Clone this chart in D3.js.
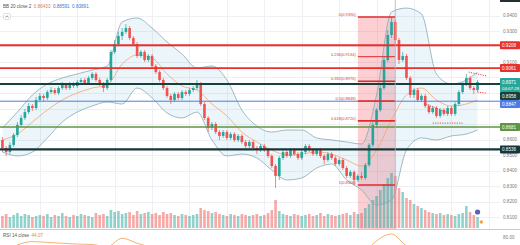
<!DOCTYPE html>
<html>
<head>
<meta charset="utf-8">
<script src="https://cdn.jsdelivr.net/npm/d3@7"></script>
<style>
  html, body { margin: 0; padding: 0; background: #fff; }
  svg { display: block; font-family: "Liberation Sans", Arial, sans-serif; }
</style>
</head>
<body>
<svg id="chart" width="520" height="245"></svg>
<script>
// candles (one row of 10 per line)
const opens = [
  0.8597,0.8545,0.8519,0.8565,0.8629,0.8694,0.8739,0.8777,0.8816,0.8803,
  0.8855,0.8881,0.8868,0.8906,0.8919,0.8900,0.8932,0.8952,0.8932,0.8958,
  0.8945,0.8971,0.8984,0.8965,0.8997,0.9023,0.8984,0.8958,0.8932,0.8984,
  0.9165,0.9216,0.9268,0.9294,0.9319,0.9255,0.9216,0.9139,0.9165,0.9113,
  0.9139,0.9074,0.9035,0.8984,0.8932,0.8881,0.8855,0.8894,0.8868,0.8906,
  0.8894,0.8919,0.8932,0.8958,0.8829,0.8739,0.8674,0.8700,0.8648,0.8623,
  0.8648,0.8610,0.8635,0.8597,0.8623,0.8584,0.8558,0.8584,0.8545,0.8532,
  0.8558,0.8532,0.8494,0.8429,0.8365,0.8481,0.8519,0.8494,0.8532,0.8506,
  0.8481,0.8519,0.8558,0.8532,0.8506,0.8532,0.8494,0.8468,0.8506,0.8481,
  0.8442,0.8468,0.8416,0.8365,0.8390,0.8339,0.8365,0.8352,0.8435,0.8565,
  0.8694,0.8790,0.8932,0.9113,0.9274,0.9358,0.9242,0.9113,0.9139,0.8997,
  0.8887,0.8919,0.8855,0.8881,0.8816,0.8777,0.8803,0.8752,0.8790,0.8765,
  0.8803,0.8765,0.8829,0.8906,0.8958,0.8997,0.8932,0.8919
];
const highs = [
  0.8616,0.8558,0.8584,0.8642,0.8713,0.8758,0.8797,0.8835,0.8829,0.8874,
  0.8900,0.8894,0.8919,0.8939,0.8932,0.8945,0.8971,0.8965,0.8971,0.8971,
  0.8984,0.8997,0.8997,0.9010,0.9035,0.9035,0.8997,0.8971,0.8997,0.9177,
  0.9242,0.9294,0.9319,0.9345,0.9332,0.9268,0.9229,0.9177,0.9177,0.9152,
  0.9152,0.9087,0.9048,0.8997,0.8945,0.8894,0.8906,0.8906,0.8919,0.8919,
  0.8932,0.8945,0.8984,0.8971,0.8842,0.8752,0.8713,0.8713,0.8661,0.8661,
  0.8661,0.8648,0.8648,0.8635,0.8635,0.8597,0.8597,0.8597,0.8558,0.8571,
  0.8571,0.8545,0.8506,0.8442,0.8494,0.8532,0.8532,0.8545,0.8545,0.8519,
  0.8532,0.8571,0.8571,0.8545,0.8545,0.8545,0.8506,0.8519,0.8519,0.8494,
  0.8481,0.8481,0.8429,0.8403,0.8403,0.8377,0.8390,0.8448,0.8577,0.8713,
  0.8803,0.8952,0.9139,0.9306,0.9390,0.9371,0.9255,0.9165,0.9152,0.9010,
  0.8932,0.8932,0.8894,0.8894,0.8829,0.8816,0.8816,0.8803,0.8803,0.8816,
  0.8816,0.8842,0.8919,0.8971,0.9023,0.9010,0.8945,0.8984
];
const lows = [
  0.8519,0.8494,0.8506,0.8552,0.8616,0.8681,0.8726,0.8765,0.8784,0.8790,
  0.8842,0.8848,0.8855,0.8894,0.8887,0.8887,0.8919,0.8919,0.8919,0.8932,
  0.8932,0.8958,0.8952,0.8952,0.8984,0.8971,0.8945,0.8906,0.8919,0.8971,
  0.9152,0.9203,0.9242,0.9281,0.9242,0.9203,0.9126,0.9126,0.9100,0.9100,
  0.9061,0.9023,0.8971,0.8919,0.8868,0.8829,0.8842,0.8855,0.8855,0.8881,
  0.8881,0.8906,0.8919,0.8816,0.8726,0.8648,0.8661,0.8635,0.8597,0.8610,
  0.8597,0.8597,0.8584,0.8584,0.8571,0.8545,0.8545,0.8532,0.8506,0.8519,
  0.8519,0.8481,0.8416,0.8287,0.8339,0.8468,0.8481,0.8481,0.8494,0.8468,
  0.8468,0.8506,0.8519,0.8494,0.8494,0.8481,0.8442,0.8455,0.8468,0.8429,
  0.8429,0.8403,0.8352,0.8352,0.8306,0.8326,0.8339,0.8339,0.8423,0.8552,
  0.8674,0.8777,0.8919,0.9100,0.9255,0.9216,0.9087,0.9100,0.8984,0.8868,
  0.8868,0.8842,0.8842,0.8803,0.8765,0.8765,0.8739,0.8739,0.8752,0.8752,
  0.8752,0.8752,0.8816,0.8894,0.8945,0.8919,0.8894,0.8906
];
const closes = [
  0.8545,0.8519,0.8565,0.8629,0.8694,0.8739,0.8777,0.8816,0.8803,0.8855,
  0.8881,0.8868,0.8906,0.8919,0.8900,0.8932,0.8952,0.8932,0.8958,0.8945,
  0.8971,0.8984,0.8965,0.8997,0.9023,0.8984,0.8958,0.8932,0.8984,0.9165,
  0.9216,0.9268,0.9294,0.9319,0.9255,0.9216,0.9139,0.9165,0.9113,0.9139,
  0.9074,0.9035,0.8984,0.8932,0.8881,0.8855,0.8894,0.8868,0.8906,0.8894,
  0.8919,0.8932,0.8958,0.8829,0.8739,0.8674,0.8700,0.8648,0.8623,0.8648,
  0.8610,0.8635,0.8597,0.8623,0.8584,0.8558,0.8584,0.8545,0.8532,0.8558,
  0.8532,0.8494,0.8429,0.8365,0.8481,0.8519,0.8494,0.8532,0.8506,0.8481,
  0.8519,0.8558,0.8532,0.8506,0.8532,0.8494,0.8468,0.8506,0.8481,0.8442,
  0.8468,0.8416,0.8365,0.8390,0.8339,0.8365,0.8352,0.8435,0.8565,0.8694,
  0.8790,0.8932,0.9113,0.9274,0.9358,0.9242,0.9113,0.9139,0.8997,0.8887,
  0.8919,0.8855,0.8881,0.8816,0.8777,0.8803,0.8752,0.8790,0.8765,0.8803,
  0.8765,0.8829,0.8906,0.8958,0.8997,0.8932,0.8919,0.8971
];
const volumes = [
  12,14,11,13,15,12,14,13,11,12,
  13,12,14,11,13,12,15,12,11,13,
  12,14,13,12,11,15,13,14,12,18,
  16,17,14,15,16,13,17,14,15,16,
  14,15,13,16,14,15,13,12,14,13,
  12,13,14,20,18,17,15,16,14,13,
  12,14,13,12,14,13,12,13,14,12,
  13,15,18,28,17,14,13,12,14,13,
  12,13,14,12,13,15,12,14,13,12,
  13,14,15,13,16,14,15,20,24,28,
  32,38,44,50,55,52,40,36,30,28,
  24,22,20,18,16,15,14,15,13,14,
  13,12,14,15,22,16,13,11
];

// Bollinger Bands (20, 2) and RSI read at every 4th candle
const sampleIndex = [0,4,8,12,16,20,24,28,32,36,40,44,48,52,56,60,64,68,72,76,80,84,88,92,96,100,104,108,112,116,120,124,127];
const bbUpper = [0.8674,0.8777,0.8887,0.8958,0.8997,0.9023,0.9048,0.9074,0.9358,0.9384,0.9319,0.9229,0.9152,0.9061,0.9074,0.8984,
                 0.8790,0.8687,0.8648,0.8661,0.8661,0.8610,0.8597,0.8584,0.8571,0.8887,0.9423,0.9448,0.9410,0.9023,0.8958,0.8984,0.9035];
const bbLower = [0.8519,0.8494,0.8519,0.8610,0.8713,0.8777,0.8816,0.8842,0.8829,0.8932,0.8868,0.8771,0.8739,0.8777,0.8597,0.8494,
                 0.8506,0.8481,0.8403,0.8339,0.8352,0.8416,0.8442,0.8339,0.8274,0.8177,0.8210,0.8532,0.8610,0.8597,0.8623,0.8635,0.8661];
const bbBasis = [0.8597,0.8635,0.8713,0.8790,0.8855,0.8900,0.8932,0.8952,0.9087,0.9145,0.9126,0.9023,0.8945,0.8919,0.8829,0.8752,
                 0.8648,0.8584,0.8532,0.8500,0.8506,0.8519,0.8506,0.8468,0.8429,0.8532,0.8726,0.8887,0.8932,0.8855,0.8816,0.8829,0.8855];
const rsiValues = [45,62,70,68,66,64,63,58,78,66,55,40,45,48,32,38,36,38,32,45,48,46,44,36,38,72,88,60,48,44,46,58,56];

const priceTicks = [0.94,0.93,0.92,0.91,0.90,0.89,0.88,0.87,0.86,0.85,0.84,0.83,0.82,0.81];
const rsiTicks = [80];
const legendText = "BB 20 close 2";
const legendValues = ["0.86433", "0.88591", "0.83891"];
const rsiLabel = "RSI 14 close";
const rsiLabelValue = "44.07";
const countdown = "04:07:28";

// drawings
const levels = [0.9208, 0.9061, 0.8958, 0.8847, 0.8681, 0.8536];
const fibHigh = 0.9390, fibLow = 0.8306;
const fibLevels = [0, 0.236, 0.382, 0.5, 0.618, 1];
const fibStart = 95, fibEnd = 105;
const dotted = [
  [113.1, 0.8829, 119.3, 0.8771],
  [115, 0.8706, 123, 0.8706],
  [124.6, 0.9035, 129.5, 0.9010],
  [127, 0.8906, 129.2, 0.8900]
];

// styles
const levelColors = ["#e8302c", "#e8302c", "#17403c", "#4f7be8", "#5f9441", "#17363a"];
const levelWidths = [1.8, 1.8, 2.2, 1, 1.5, 2.2];
const upColor = "#26a69a", downColor = "#ef5350";

const svg = d3.select("#chart");
const plotRight = 500, mainBottom = 229;

const x = d3.scaleBand().domain(d3.range(closes.length)).range([0, 480]).padding(0.3);
const xAt = i => x(0) + x.bandwidth() / 2 + i * x.step();
const y = d3.scaleLinear().domain([0.81, 0.95]).range([217, 0]);
const yVol = d3.scaleLinear().domain([0, 60]).range([228, 168]);
const yRsi = d3.scaleLinear().domain([0, 100]).range([271, 229]);

const defs = svg.append("defs");
defs.append("clipPath").attr("id", "clipMain")
  .append("rect").attr("x", 0).attr("y", 0).attr("width", plotRight).attr("height", mainBottom);
defs.append("clipPath").attr("id", "clipRsi")
  .append("rect").attr("x", 0).attr("y", 230).attr("width", plotRight).attr("height", 15);

const main = svg.append("g").attr("clip-path", "url(#clipMain)");

// grid
main.append("g").selectAll("line").data(priceTicks).join("line")
  .attr("x1", 0).attr("x2", plotRight)
  .attr("y1", d => Math.round(y(d)) + 0.5).attr("y2", d => Math.round(y(d)) + 0.5)
  .attr("stroke", "#eef0f5");
main.append("g").selectAll("line").data(d3.range(10, 140, 10)).join("line")
  .attr("x1", d => Math.round(xAt(d)) + 0.5).attr("x2", d => Math.round(xAt(d)) + 0.5)
  .attr("y1", 0).attr("y2", 245)
  .attr("stroke", "#eef0f5");

// fib box
main.append("rect")
  .attr("x", xAt(fibStart)).attr("width", xAt(fibEnd) - xAt(fibStart))
  .attr("y", y(fibHigh)).attr("height", mainBottom - y(fibHigh))
  .attr("fill", "rgba(242,54,69,0.24)");

// volume
main.append("g").selectAll("rect").data(volumes).join("rect")
  .attr("x", (d, i) => x(i)).attr("width", x.bandwidth())
  .attr("y", d => yVol(d)).attr("height", d => yVol(0) - yVol(d))
  .attr("fill", (d, i) => closes[i] >= opens[i] ? "rgba(38,166,154,0.5)" : "rgba(239,83,80,0.5)");

// bollinger bands
const bb = sampleIndex.map((idx, k) => ({ idx, u: bbUpper[k], l: bbLower[k], m: bbBasis[k] }));
main.append("path").datum(bb)
  .attr("d", d3.area().x(d => xAt(d.idx)).y0(d => y(d.l)).y1(d => y(d.u)).curve(d3.curveMonotoneX))
  .attr("fill", "rgba(41,150,200,0.09)");
["u", "l"].forEach(key => {
  main.append("path").datum(bb)
    .attr("d", d3.line().x(d => xAt(d.idx)).y(d => y(d[key])).curve(d3.curveMonotoneX))
    .attr("fill", "none").attr("stroke", "#86a9b3").attr("stroke-width", 0.8);
});
main.append("path").datum(bb)
  .attr("d", d3.line().x(d => xAt(d.idx)).y(d => y(d.m)).curve(d3.curveMonotoneX))
  .attr("fill", "none").attr("stroke", "#f2a56e").attr("stroke-width", 0.8);

// candles
const candles = main.append("g").selectAll("g").data(closes).join("g");
candles.append("line")
  .attr("x1", (d, i) => xAt(i)).attr("x2", (d, i) => xAt(i))
  .attr("y1", (d, i) => y(highs[i])).attr("y2", (d, i) => y(lows[i]))
  .attr("stroke", (d, i) => d >= opens[i] ? upColor : downColor).attr("stroke-width", 0.7);
candles.append("rect")
  .attr("x", (d, i) => x(i)).attr("width", x.bandwidth())
  .attr("y", (d, i) => y(Math.max(d, opens[i])))
  .attr("height", (d, i) => Math.max(0.8, Math.abs(y(d) - y(opens[i]))))
  .attr("fill", (d, i) => d >= opens[i] ? upColor : downColor);

// horizontal levels
main.append("g").selectAll("line").data(levels).join("line")
  .attr("x1", 0).attr("x2", plotRight)
  .attr("y1", d => y(d)).attr("y2", d => y(d))
  .attr("stroke", (d, k) => levelColors[k]).attr("stroke-width", (d, k) => levelWidths[k]);

// fib retracement
const fibPrice = lvl => fibHigh - lvl * (fibHigh - fibLow);
const fib = main.append("g");
fib.selectAll("line").data(fibLevels).join("line")
  .attr("x1", xAt(fibStart)).attr("x2", xAt(fibEnd))
  .attr("y1", d => y(fibPrice(d))).attr("y2", d => y(fibPrice(d)))
  .attr("stroke", "#e22a2a").attr("stroke-width", d => (d === 0.236 ? 1 : 1.6));
fib.selectAll("text").data(fibLevels).join("text")
  .attr("x", xAt(fibStart) - 2).attr("y", d => y(fibPrice(d)) - 1)
  .attr("text-anchor", "end").attr("font-size", 4).attr("fill", "#d83a3a")
  .text(d => `${d}(${fibPrice(d).toFixed(4)})`);
main.append("line")
  .attr("x1", xAt(fibEnd)).attr("x2", xAt(fibEnd)).attr("y1", 0).attr("y2", mainBottom)
  .attr("stroke", "#a9b1bb").attr("stroke-width", 0.8);

// dotted trend lines
main.append("g").selectAll("line").data(dotted).join("line")
  .attr("x1", d => xAt(d[0])).attr("y1", d => y(d[1]))
  .attr("x2", d => xAt(d[2])).attr("y2", d => y(d[3]))
  .attr("stroke", "#e8302c").attr("stroke-width", 0.9).attr("stroke-dasharray", "1.2,1.2");

// event markers
main.append("circle").attr("cx", xAt(127)).attr("cy", yVol(16)).attr("r", 2.6).attr("fill", "#5c5fb8");
main.append("circle").attr("cx", xAt(128)).attr("cy", yVol(6)).attr("r", 1.8).attr("fill", "#f4a24a");

// price axis labels
const last = closes.length - 1;
let tags = levels.map((p, k) => ({ top: y(p) - 4, h: 8, color: levelColors[k], text: p.toFixed(4) }));
tags.push({ top: y(closes[last]) - 4, h: 14, color: upColor, text: closes[last].toFixed(4), sub: countdown });
tags.sort((a, b) => a.top - b.top);
let prevBottom = -100;
tags.forEach(t => { if (t.top < prevBottom) t.top = prevBottom; prevBottom = t.top + t.h; });

const axis = svg.append("g");
axis.selectAll("text").data(priceTicks.filter(p => !tags.some(t => y(p) > t.top - 1.5 && y(p) < t.top + t.h + 1.5)))
  .join("text")
  .attr("x", 503).attr("y", d => y(d)).attr("dy", "0.35em")
  .attr("font-size", 4.6).attr("fill", "#787b86")
  .text(d => d.toFixed(4));
axis.append("rect").attr("x", 500).attr("y", -4).attr("width", 20).attr("height", 6).attr("fill", "#24302f");
const tagG = axis.selectAll("g.tag").data(tags).join("g").attr("class", "tag");
tagG.append("rect").attr("x", 500).attr("y", d => d.top).attr("width", 20).attr("height", d => d.h)
  .attr("fill", d => d.color).attr("rx", 0.8);
tagG.append("text").attr("x", 502).attr("y", d => d.top + 4).attr("dy", "0.35em")
  .attr("font-size", 4.6).attr("fill", "#fff").text(d => d.text);
tagG.filter(d => d.sub).append("text").attr("x", 502).attr("y", d => d.top + 10).attr("dy", "0.35em")
  .attr("font-size", 4.4).attr("fill", "#fff").text(d => d.sub);

// legend
const legend = svg.append("text").attr("x", 3).attr("y", 8).attr("font-size", 4.6).attr("fill", "#555");
legend.append("tspan").text(legendText);
const legendColors = ["#e07b39", "#3a78c8", "#3a78c8"];
legendValues.forEach((v, k) => legend.append("tspan").attr("dx", 2.5).attr("fill", legendColors[k]).text(v));
svg.append("rect").attr("x", 3.5).attr("y", 13.5).attr("width", 7).attr("height", 6).attr("rx", 1)
  .attr("fill", "#fff").attr("stroke", "#c9ccd3").attr("stroke-width", 0.6);
svg.append("path").attr("d", "M5.3,17.6 L7,15.8 L8.7,17.6").attr("fill", "none").attr("stroke", "#555").attr("stroke-width", 0.6);

// RSI pane
svg.append("line").attr("x1", 0).attr("x2", 520).attr("y1", 229.5).attr("y2", 229.5)
  .attr("stroke", "#c8cbd2").attr("stroke-width", 1);
svg.append("g").attr("clip-path", "url(#clipRsi)")
  .append("path").datum(rsiValues)
  .attr("d", d3.line().x((d, k) => xAt(sampleIndex[k])).y(d => yRsi(d)).curve(d3.curveMonotoneX))
  .attr("fill", "none").attr("stroke", "#f0a050").attr("stroke-width", 0.8);
const rsiText = svg.append("text").attr("x", 3).attr("y", 237).attr("font-size", 4.6).attr("fill", "#555");
rsiText.append("tspan").text(rsiLabel);
rsiText.append("tspan").attr("dx", 2.5).attr("fill", "#e08a2c").text(rsiLabelValue);
svg.append("g").selectAll("text").data(rsiTicks).join("text")
  .attr("x", 503).attr("y", d => yRsi(d)).attr("dy", "0.35em")
  .attr("font-size", 4.6).attr("fill", "#787b86").text(d => d.toFixed(2));
</script>
</body>
</html>
